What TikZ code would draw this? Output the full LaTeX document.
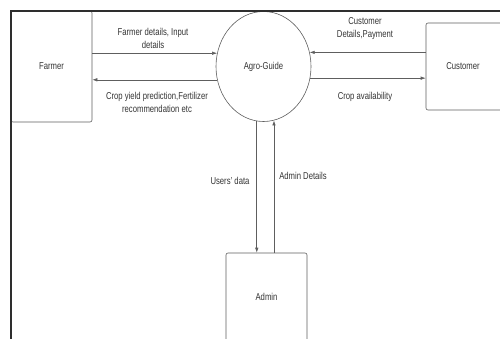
\documentclass[tikz,border=0pt]{standalone}
\usepackage{fontspec}
\setmainfont[FakeStretch=0.77]{Liberation Sans}
\usepackage{tikz}
\usetikzlibrary{shapes.geometric, arrows.meta, positioning}
\definecolor{linegray}{HTML}{5E5E5E}
\definecolor{textgray}{HTML}{333333}
\definecolor{framegray}{HTML}{2E2E2E}
\tikzstyle{entity} = [rectangle, rounded corners=2pt, draw=linegray, line width=0.6pt, fill=white, text=textgray, font=\fontsize{10}{13}\selectfont]
\tikzstyle{process} = [ellipse, draw=linegray, line width=0.6pt, minimum width=95pt, minimum height=110pt, inner sep=0pt, text=textgray, font=\fontsize{10}{13}\selectfont]
\tikzstyle{arrow} = [draw=linegray, line width=0.6pt, -{Latex[length=5pt,width=3.5pt]}]
\tikzstyle{flowtext} = [text=textgray, align=center, inner sep=0pt, font=\fontsize{10}{13}\selectfont]

\begin{document}
\begin{tikzpicture}[x=1pt, y=-1pt]
    \useasboundingbox (0,0) rectangle (500,339);
    \clip (0,0) rectangle (500,339);

    % Entities and process
    \node (farmer) [entity, minimum width=81pt, minimum height=111pt] at (51.5,66.5) {Farmer};
    \node (agro) [process] at (263.5,66.5) {Agro-Guide};
    \node (customer) [entity, minimum width=79pt, minimum height=87pt] at (465.5,66.5) {};
    \node (custname) [text=textgray, font=\fontsize{10}{13}\selectfont] at (463,66.5) {Customer};
    \node (admin) [entity, minimum width=81pt, minimum height=88pt] at (266.5,297) {Admin};

    % Page frame
    \draw [framegray, line width=1.3pt] (11,345) -- (11,11) -- (505,11);

    % Flows
    \draw [arrow] (agro.164 -| farmer.east) -- (agro.164);
    \draw [arrow] (agro.196 |- agro.196) -- (agro.196 -| farmer.east);
    \draw [arrow] (agro.17.6 -| customer.west) -- (agro.17.6);
    \draw [arrow] (agro.346 |- agro.346) -- (agro.346 -| customer.west);
    \draw [arrow] (agro.263.2) -- (agro.263.2 |- admin.north);
    \draw [arrow] (agro.281.1 |- admin.north) -- (agro.281.1);

    % Labels
    \node (l1) [flowtext] at (153,38.5) {Farmer details, Input\\details};
    \node (l2) [flowtext] at (157,102) {Crop yield prediction,Fertilizer\\recommendation etc};
    \node (l3) [flowtext] at (365,29) {Customer\\Details,Payment};
    \node (l4) [flowtext] at (365,97) {Crop availability};
    \node (l5) [flowtext] at (230,181) {Users' data};
    \node (l6) [flowtext] at (303,176) {Admin Details};
\end{tikzpicture}
\end{document}
